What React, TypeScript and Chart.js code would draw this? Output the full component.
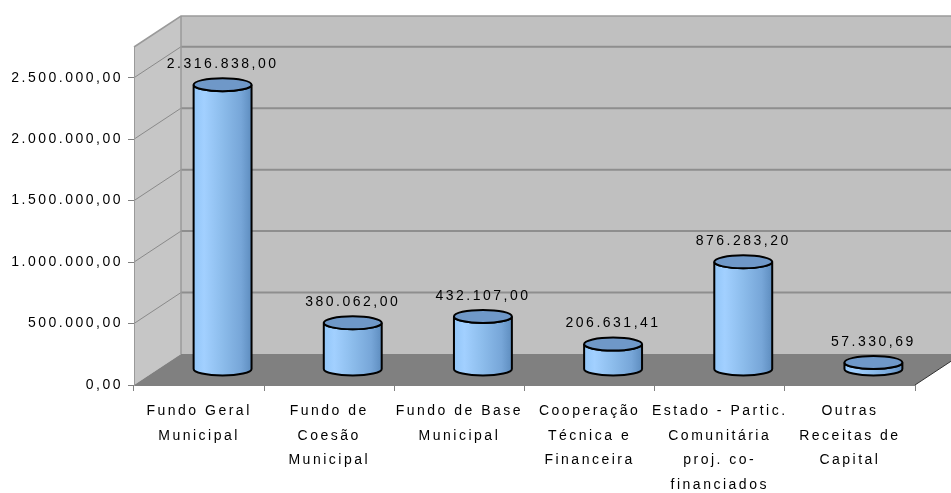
import { useEffect, useRef } from 'react';
import { Chart, registerables } from 'chart.js';

Chart.register(...registerables);

const categories: string[][] = [
  ['Fundo Geral', 'Municipal'],
  ['Fundo de', 'Coesão', 'Municipal'],
  ['Fundo de Base', 'Municipal'],
  ['Cooperação', 'Técnica e', 'Financeira'],
  ['Estado - Partic.', 'Comunitária', 'proj. co-', 'financiados'],
  ['Outras', 'Receitas de', 'Capital'],
];
const values: number[] = [2316838.0, 380062.0, 432107.0, 206631.41, 876283.2, 57330.69];
const yTicks: number[] = [0, 500000, 1000000, 1500000, 2000000, 2500000];
const yMax = 2750000;

const DX = 47;
const DY = -31;
const LS = '2.5px';
const FAMILY = '"Liberation Sans", Arial, sans-serif';

function fmt(v: number): string {
  const [i, d] = v.toFixed(2).split('.');
  return i.replace(/\B(?=(\d{3})+(?!\d))/g, '.') + ',' + d;
}

const excel3d = {
  id: 'excel3d',
  beforeUpdate(chart: any) {
    chart.ctx.letterSpacing = LS;
  },
  beforeDraw(chart: any) {
    const ctx = chart.ctx as CanvasRenderingContext2D;
    (ctx as any).letterSpacing = LS;
    const { left, right, top, bottom } = chart.chartArea;
    const ys = chart.scales.y;
    const W = chart.width;
    ctx.save();
    ctx.fillStyle = '#ffffff';
    ctx.fillRect(0, 0, W, chart.height);
    // back wall
    ctx.fillStyle = '#C0C0C0';
    ctx.fillRect(left + DX, top + DY, W - (left + DX), bottom - top);
    // side wall
    ctx.fillStyle = '#C6C6C6';
    ctx.beginPath();
    ctx.moveTo(left, top);
    ctx.lineTo(left + DX, top + DY);
    ctx.lineTo(left + DX, bottom + DY);
    ctx.lineTo(left, bottom);
    ctx.closePath();
    ctx.fill();
    // floor
    ctx.fillStyle = '#808080';
    ctx.beginPath();
    ctx.moveTo(left, bottom);
    ctx.lineTo(left + DX, bottom + DY);
    ctx.lineTo(right + DX, bottom + DY);
    ctx.lineTo(right, bottom);
    ctx.closePath();
    ctx.fill();
    // floor right edge
    ctx.strokeStyle = '#333333';
    ctx.lineWidth = 1;
    ctx.beginPath();
    ctx.moveTo(right, bottom);
    ctx.lineTo(right + DX, bottom + DY);
    ctx.stroke();
    // gridlines
    for (const t of yTicks) {
      if (t === 0) continue;
      const py = ys.getPixelForValue(t);
      ctx.strokeStyle = '#8A8A8A';
      ctx.lineWidth = 1;
      ctx.beginPath();
      ctx.moveTo(left, py);
      ctx.lineTo(left + DX, py + DY);
      ctx.stroke();
      ctx.strokeStyle = '#8E8E8E';
      ctx.lineWidth = 2;
      ctx.beginPath();
      ctx.moveTo(left + DX, py + DY);
      ctx.lineTo(W, py + DY);
      ctx.stroke();
    }
    // wall edges
    ctx.strokeStyle = '#9A9A9A';
    ctx.lineWidth = 1.5;
    ctx.beginPath();
    ctx.moveTo(left, top);
    ctx.lineTo(left + DX, top + DY);
    ctx.lineTo(W, top + DY);
    ctx.stroke();
    ctx.beginPath();
    ctx.moveTo(left + DX, top + DY);
    ctx.lineTo(left + DX, bottom + DY);
    ctx.stroke();
    ctx.restore();
  },
  afterDatasetsDraw(chart: any) {
    const ctx = chart.ctx as CanvasRenderingContext2D;
    const meta = chart.getDatasetMeta(0);
    ctx.save();
    (ctx as any).letterSpacing = LS;
    meta.data.forEach((el: any, i: number) => {
      const rx = el.width / 2;
      const ry = 6.5;
      const cx = el.x + DX / 2;
      const topY = el.y + DY / 2;
      const botY = el.base + DY / 2;
      const g = ctx.createLinearGradient(cx - rx, 0, cx + rx, 0);
      g.addColorStop(0, '#92C6F8');
      g.addColorStop(0.18, '#A2D0FF');
      g.addColorStop(0.5, '#8CBCEB');
      g.addColorStop(0.82, '#77A6D8');
      g.addColorStop(1, '#5E8DBF');
      ctx.beginPath();
      ctx.moveTo(cx - rx, topY);
      ctx.lineTo(cx - rx, botY);
      ctx.ellipse(cx, botY, rx, ry, 0, Math.PI, 0, true);
      ctx.lineTo(cx + rx, topY);
      ctx.ellipse(cx, topY, rx, ry, 0, 0, Math.PI, false);
      ctx.closePath();
      ctx.fillStyle = g;
      ctx.fill();
      ctx.strokeStyle = '#000000';
      ctx.lineWidth = 2;
      ctx.stroke();
      ctx.beginPath();
      ctx.ellipse(cx, topY, rx, ry, 0, 0, Math.PI * 2);
      ctx.fillStyle = '#6F98C8';
      ctx.fill();
      ctx.stroke();
      // label
      ctx.fillStyle = '#000000';
      ctx.font = '14px ' + FAMILY;
      ctx.textAlign = 'center';
      ctx.textBaseline = 'middle';
      ctx.fillText(fmt(values[i]), cx, topY - ry - 14);
    });
    ctx.restore();
  },
};

export default function App() {
  const ref = useRef<HTMLCanvasElement | null>(null);
  useEffect(() => {
    const canvas = ref.current!;
    const chart = new Chart(canvas, {
      type: 'bar',
      data: {
        labels: categories,
        datasets: [
          {
            data: values,
            backgroundColor: 'rgba(0,0,0,0)',
            borderWidth: 0,
            categoryPercentage: 1,
            barPercentage: 0.445,
          },
        ],
      },
      options: {
        responsive: false,
        animation: false,
        events: [],
        layout: { padding: { left: 0, right: 36, top: 47, bottom: 0 } },
        plugins: { legend: { display: false }, tooltip: { enabled: false }, title: { display: false } },
        scales: {
          x: {
            grid: { offset: true, drawOnChartArea: false, tickLength: 6, color: '#808080' },
            border: { color: '#808080' },
            ticks: {
              color: '#000000',
              font: { family: FAMILY, size: 14, lineHeight: 1.75 },
              padding: 8,
              maxRotation: 0,
              autoSkip: false,
            },
            afterFit: (s: any) => {
              s.height = 108;
            },
          },
          y: {
            min: 0,
            max: yMax,
            grid: {
              drawOnChartArea: false,
              tickLength: 6,
              color: '#808080',
            },
            border: { color: '#9A9A9A' },
            afterBuildTicks: (s: any) => {
              s.ticks = yTicks.map((v) => ({ value: v }));
            },
            ticks: {
              color: '#000000',
              autoSkip: false,
              font: { family: FAMILY, size: 14 },
              padding: 5,
              callback: (v: any) => fmt(Number(v)),
            },
            afterFit: (s: any) => {
              s.width = 134;
            },
          },
        },
      },
      plugins: [excel3d],
    });
    return () => chart.destroy();
  }, []);
  return (
    <div style={{ position: 'fixed', left: 0, top: 0, width: 951, height: 493, background: '#fff' }}>
      <canvas ref={ref} width={951} height={493} />
    </div>
  );
}
